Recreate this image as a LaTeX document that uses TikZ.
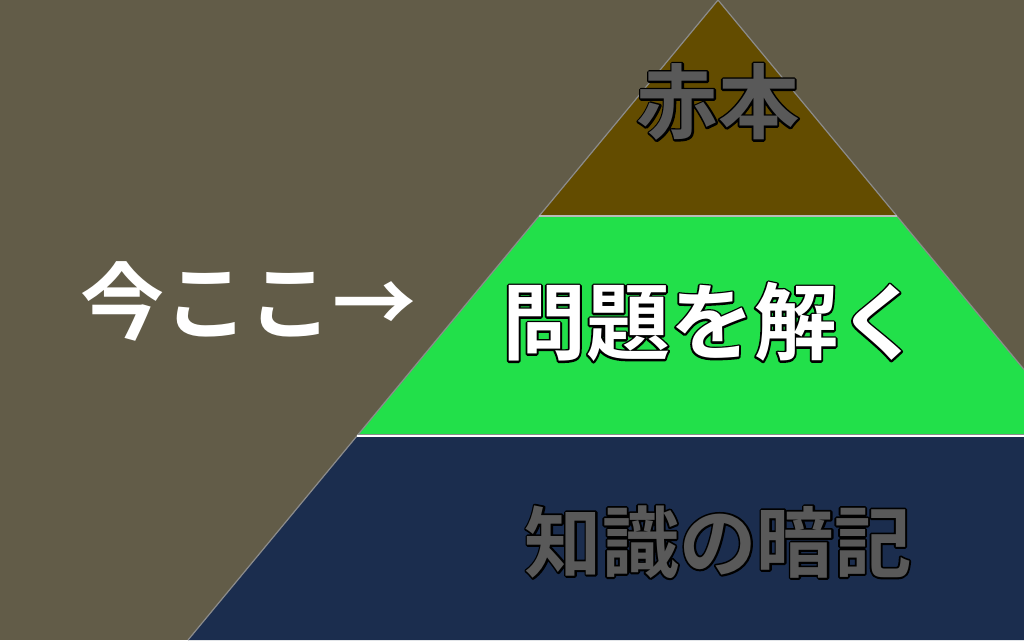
\documentclass[tikz,border=0pt]{standalone}
\usepackage{fontspec}
\newfontfamily\cjk{Noto Sans CJK JP}[BoldFont={Noto Sans CJK JP Bold}]
\definecolor{bgc}{HTML}{625C48}
\definecolor{topc}{HTML}{634C00}
\definecolor{midc}{HTML}{22E04A}
\definecolor{lowc}{HTML}{1B2D4E}
\definecolor{txtgray}{HTML}{595959}
\definecolor{edgec}{HTML}{8C8C8C}
\newcommand\outlinetext[1]{\rlap{\special{pdf:literal direct 1 Tr 2.8 w 0 G 1 j}#1\special{pdf:literal direct 0 Tr}}#1}
\begin{document}
\begin{tikzpicture}[x=0.75pt,y=-0.75pt]
\tikzset{
  lbl/.style={font=\cjk\bfseries\fontsize{60pt}{60pt}\selectfont, inner sep=0pt},
}
\useasboundingbox (0,0) rectangle (1024,640);
\fill[bgc] (0,0) rectangle (1024,640);
% tiers
\coordinate (apex) at (718,0);
\coordinate (tl) at (539,216);
\coordinate (tr) at (897,216);
\coordinate (ml) at (357,436);
\coordinate (mr) at (1079,436);
\coordinate (bl) at (188,640);
\coordinate (br) at (1248,640);
\begin{scope}
\clip (0,0) rectangle (1024,640);
\fill[topc] (apex) -- (tl) -- (tr) -- cycle;
\fill[midc] (tl) -- (ml) -- (mr) -- (tr) -- cycle;
\fill[lowc] (ml) -- (bl) -- (br) -- (mr) -- cycle;
\draw[edgec, line width=0.9pt] (bl) -- (apex) -- (br);
\draw[edgec!60!white, line width=0.9pt] (tl) -- (tr);
\draw[edgec, line width=0.9pt] ([yshift=1.4pt]ml) -- ([yshift=1.4pt]mr);
\draw[white, line width=1.4pt] ([yshift=0.3pt]ml) -- ([yshift=0.3pt]mr);
\end{scope}
% labels
\node[lbl, text=txtgray, font=\cjk\bfseries\fontsize{61pt}{61pt}\selectfont] (t1) at (718,102) {\outlinetext{赤本}};
\node[lbl, text=white, font=\cjk\bfseries\fontsize{63pt}{63pt}\selectfont] (t2) at (712,322) {\outlinetext{問題を解く}};
\node[lbl, text=txtgray, font=\cjk\bfseries\fontsize{58pt}{58pt}\selectfont] (t3) at (718,542) {\outlinetext{知識の暗記}};
\node[lbl, text=white, font=\cjk\bfseries\fontsize{63pt}{63pt}\selectfont] (here) at (248,301) {今ここ→};
\end{tikzpicture}
\end{document}
